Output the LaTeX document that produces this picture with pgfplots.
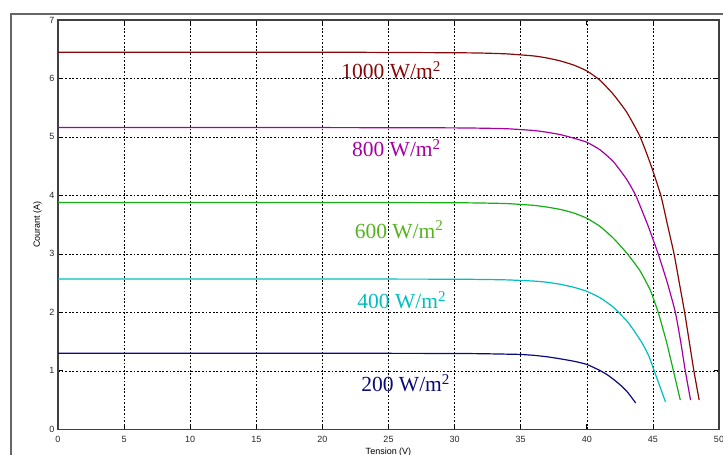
\documentclass[border=0pt]{standalone}
\usepackage{pgfplots}
\pgfplotsset{compat=1.18}
\usepackage{fontspec}
\setmainfont{Liberation Sans}
\newfontfamily\serif{Liberation Serif}
\definecolor{cA}{RGB}{135,8,8}
\definecolor{cB}{RGB}{165,0,165}
\definecolor{cC}{RGB}{20,175,20}
\definecolor{cCl}{RGB}{85,180,30}
\definecolor{cD}{RGB}{0,190,190}
\definecolor{cE}{RGB}{10,10,120}
\begin{document}
\begin{tikzpicture}[x=1pt,y=1pt]
\useasboundingbox (0,0) rectangle (723,455);
\draw[line width=1.3pt, black!60] (11,0) -- (11,441) -- (723,441);
\begin{axis}[at={(58pt,25.7pt)}, anchor=south west, scale only axis,
  width=661pt, height=409.3pt,
  xmin=0, xmax=50, ymin=0, ymax=7,
  xtick={0,5,...,50}, ytick={0,1,...,7},
  grid=major,
  major grid style={black, line width=0.6pt, dash pattern=on 1.8pt off 1.8pt},
  tick align=inside, major tick length=5pt,
  tick style={black, line width=0.7pt},
  axis line style={line width=1.1pt, black!75},
  ticklabel style={font=\fontsize{9}{10}\selectfont, text=black!85},
  xticklabel style={yshift=-3pt},
  /pgf/number format/assume math mode=true,
  xlabel={Tension (V)},
  xlabel style={font=\fontsize{9}{10}\selectfont, at={(axis description cs:0.5,0)}, anchor=north, inner sep=0pt, yshift=-18pt},
  ylabel={Courant (A)},
  ylabel style={font=\fontsize{9}{10}\selectfont, at={(axis description cs:0,0.5)}, anchor=south, inner sep=0pt, yshift=16pt},
  every axis plot/.append style={line width=1.2pt, no marks, smooth, tension=0.3},
]
\addplot[cA] coordinates {(0,6.45) (5,6.45) (10,6.45) (15,6.45) (20,6.45) (25,6.445) (30,6.44) (32,6.435) (34,6.42) (36,6.385) (37,6.35) (38,6.30) (39,6.23) (40,6.13) (41,5.97) (42,5.73) (43,5.43) (44,5.02) (44.8,4.55) (45.6,4.0) (46.1,3.5) (46.6,3.0) (47.0,2.5) (47.4,2.0) (47.75,1.5) (48.1,1.0) (48.5,0.5)};
\addplot[cB] coordinates {(0,5.16) (5,5.16) (10,5.16) (15,5.16) (20,5.16) (25,5.158) (30,5.155) (32,5.15) (34,5.14) (36,5.11) (37,5.08) (38,5.04) (39,4.98) (40,4.91) (41,4.78) (42,4.58) (43,4.28) (43.7,4.0) (44.6,3.5) (45.4,3.0) (46.1,2.5) (46.7,2.0) (47.1,1.5) (47.45,1.0) (47.85,0.5)};
\addplot[cC] coordinates {(0,3.88) (5,3.88) (10,3.88) (15,3.88) (20,3.88) (25,3.878) (30,3.875) (32,3.87) (34,3.86) (36,3.83) (37,3.80) (38,3.76) (39,3.70) (40,3.61) (41,3.47) (42,3.27) (43,3.02) (44,2.72) (44.8,2.38) (45.4,2.0) (46.0,1.52) (46.5,1.05) (47.07,0.5)};
\addplot[cD] coordinates {(0,2.57) (5,2.57) (10,2.57) (15,2.57) (20,2.57) (25,2.569) (30,2.567) (32,2.563) (34,2.555) (36,2.535) (37,2.515) (38,2.48) (39,2.43) (40,2.36) (41,2.25) (42,2.09) (43,1.86) (43.5,1.71) (44.2,1.47) (44.7,1.25) (45.1,1.0) (45.5,0.75) (45.95,0.47)};
\addplot[cE] coordinates {(0,1.30) (5,1.30) (10,1.30) (15,1.30) (20,1.30) (25,1.299) (30,1.297) (32,1.293) (34,1.285) (35,1.28) (36,1.265) (37,1.24) (38,1.205) (39,1.165) (40,1.11) (41,1.005) (41.6,0.925) (42.1,0.84) (42.6,0.745) (43.1,0.63) (43.7,0.45)};
\node[text=cA, font=\serif\fontsize{21.5}{24}\selectfont] at (axis cs:25.2,6.14) {1000 W/m\textsuperscript{2}};
\node[text=cB, font=\serif\fontsize{21.5}{24}\selectfont] at (axis cs:25.6,4.81) {800 W/m\textsuperscript{2}};
\node[text=cCl, font=\serif\fontsize{21.5}{24}\selectfont] at (axis cs:25.8,3.41) {600 W/m\textsuperscript{2}};
\node[text=cD, font=\serif\fontsize{21.5}{24}\selectfont] at (axis cs:26.0,2.21) {400 W/m\textsuperscript{2}};
\node[text=cE, font=\serif\fontsize{21.5}{24}\selectfont] at (axis cs:26.3,0.79) {200 W/m\textsuperscript{2}};
\end{axis}
\end{tikzpicture}
\end{document}
